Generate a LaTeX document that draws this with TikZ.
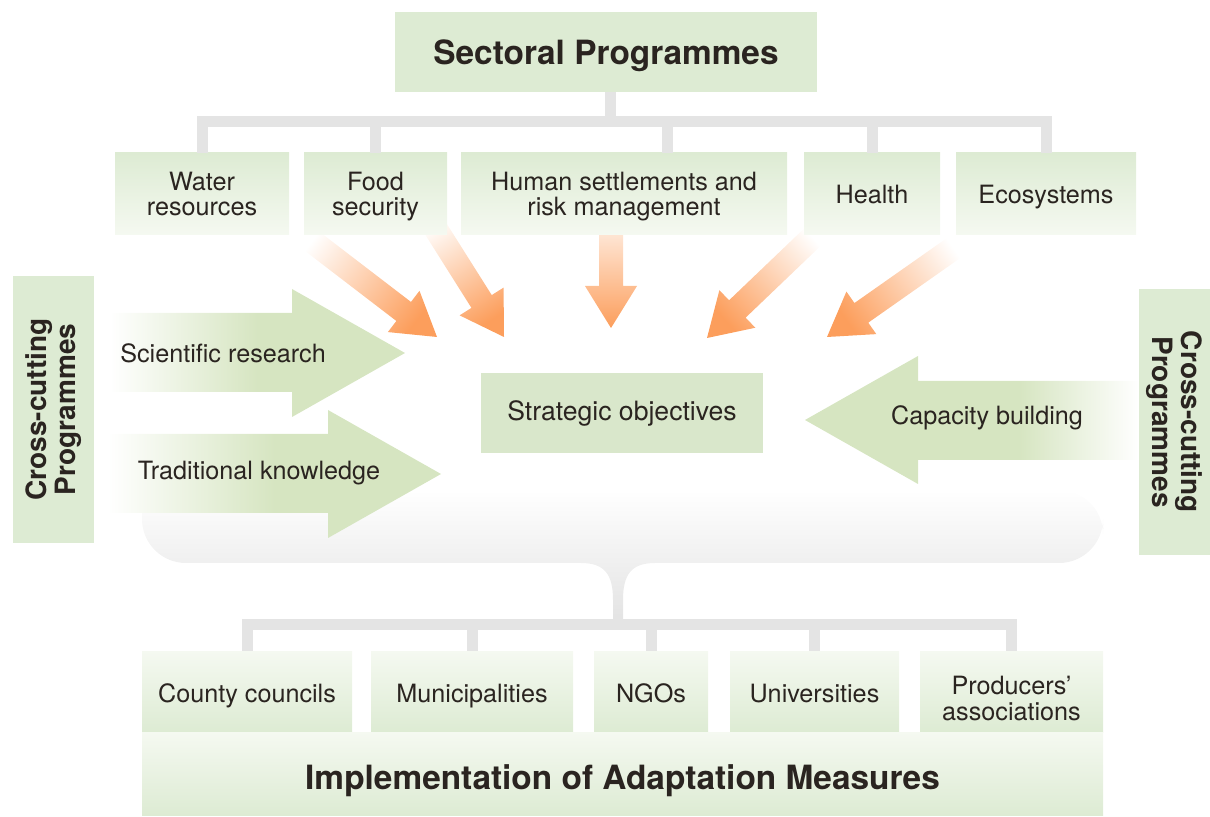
\documentclass[tikz,border=0pt]{standalone}
\usepackage{fontspec}
\setmainfont{TeX Gyre Heros}
\usetikzlibrary{calc}
\definecolor{boxgreen}{RGB}{221,235,211}
\definecolor{boxpale}{RGB}{245,249,241}
\definecolor{objgreen}{RGB}{217,231,203}
\definecolor{arrowgreen}{RGB}{214,229,193}
\definecolor{orangetip}{RGB}{252,158,92}
\definecolor{bargray}{RGB}{228,228,228}
\definecolor{bracketgray}{RGB}{226,226,226}
\definecolor{inkdark}{RGB}{42,36,32}
\pgfdeclarehorizontalshading{capfade}{100bp}{color(0bp)=(arrowgreen); color(25bp)=(arrowgreen);
  color(57bp)=(arrowgreen); color(75bp)=(white); color(100bp)=(white)}
\tikzset{
  secbox/.style   = {rectangle, inner sep=0pt, align=center, text=inkdark,
                     font=\fontsize{12.6}{12.8}\selectfont, text depth=0pt,
                     top color=boxgreen, bottom color=boxpale},
  oneline/.style  = {text height=#1, text depth=0pt},
  orgbox/.style   = {secbox, top color=boxpale, bottom color=boxgreen},
  headbox/.style  = {rectangle, inner sep=0pt, text=inkdark,
                     font=\fontsize{16.7}{20}\selectfont\bfseries},
  sidebox/.style  = {rectangle, inner sep=0pt, align=center, fill=boxgreen,
                     text=inkdark, font=\fontsize{14}{12}\selectfont\bfseries},
  lbl/.style      = {inner sep=0pt, text=inkdark, font=\fontsize{12.6}{12.8}\selectfont},
  greenarrow/.style = {left color=white, right color=arrowgreen, middle color=arrowgreen},
  bar/.style      = {draw=bargray, line width=5.5pt}
}
\begin{document}
\begin{tikzpicture}[x=0.5pt,y=-0.5pt]
\useasboundingbox (0,0) rectangle (1210,817);

% bracket above the bottom row
\path[top color=white, bottom color=bracketgray]
  (142,490) {[rounded corners=22pt] -- (142,563) -- (400,563)} -- (581,563)
  .. controls (605,563) and (613,575) .. (613,600) -- (613,625) -- (623,625) -- (623,600)
  .. controls (623,575) and (631,563) .. (655,563)
  {[rounded corners=22pt] -- (1103,563) -- (1103,490)} -- cycle;

% green arrows
\path[greenarrow] (110,313) -- (292,313) -- (292,289) -- (405,353)
  -- (292,417) -- (292,392) -- (110,392) -- cycle;
\path[greenarrow] (108,434) -- (328,434) -- (328,410) -- (441,474)
  -- (328,538) -- (328,513) -- (108,513) -- cycle;
\path[shade, shading=capfade]
  (1139,381) -- (918,381) -- (918,356) -- (805,420)
  -- (918,484) -- (918,460) -- (1139,460) -- cycle;

% orange arrows
\foreach \tx/\ty/\px/\py/\ang in {300/232/437/337/52.5, 427/215/504/337/32.4,
    611/200/611/328/0, 822/228/707/338/-47.3, 965/240/827/337/-54.9} {
  \coordinate (t) at (\tx,\ty);
  \coordinate (p) at (\px,\py);
  \coordinate (b) at ($(p)!21pt!(t)$);
  \path[left color=white, right color=orangetip, shading angle=\ang]
    ($(t)!6pt!90:(p)$) -- ($(b)!6pt!90:(p)$) -- ($(b)!13pt!90:(p)$) -- (p)
    -- ($(b)!13pt!-90:(p)$) -- ($(b)!6pt!-90:(p)$) -- ($(t)!6pt!-90:(p)$) -- cycle;
}

% boxes
\node[headbox, fill=boxgreen, minimum width=211pt, minimum height=40pt,
  oneline=12.5pt] (title) at (606,52) {Sectoral Programmes};
\node[secbox, minimum width=87pt, minimum height=41pt] (water) at (202,194) {Water\\resources};
\node[secbox, minimum width=71.5pt, minimum height=41pt] (food) at (375.5,194) {Food\\security};
\node[secbox, minimum width=163pt, minimum height=41pt]
  (human) at (624,194) {Human settlements and\\risk management};
\node[secbox, minimum width=68pt, minimum height=41pt, oneline=9.5pt]
  (health) at (872,194) {Health};
\node[secbox, minimum width=90pt, minimum height=41pt, oneline=9.5pt]
  (eco) at (1046,194) {Ecosystems};

\node[lbl, fill=objgreen, minimum width=141pt, minimum height=40pt,
  font=\fontsize{13.3}{14}\selectfont] (objectives) at (622,413) {Strategic objectives};

\node[sidebox, rotate=90, minimum width=133.5pt, minimum height=40.5pt]
  (crossL) at (53.5,409.5) {Cross-cutting\\Programmes};
\node[sidebox, rotate=-90, minimum width=133pt, minimum height=35.5pt]
  (crossR) at (1174.5,422) {Cross-cutting\\Programmes};

\node[lbl] (science) at (223,353) {Scientific research};
\node[lbl] (tradition) at (259,473) {Traditional knowledge};
\node[lbl] (capacity) at (987,418) {Capacity building};

\node[orgbox, minimum width=105pt, minimum height=40.5pt, oneline=11.45pt]
  (county) at (247,691.5) {County councils};
\node[orgbox, minimum width=101pt, minimum height=40.5pt, oneline=11.45pt]
  (munic) at (472,691.5) {Municipalities};
\node[orgbox, minimum width=57pt, minimum height=40.5pt, oneline=11.45pt]
  (ngo) at (651,691.5) {NGOs};
\node[orgbox, minimum width=84.5pt, minimum height=40.5pt, oneline=11.45pt]
  (univ) at (814.5,691.5) {Universities};
\node[orgbox, minimum width=91.5pt, minimum height=40.5pt, oneline=29pt]
  (prod) at (1011.5,691.5) {Producers’\\associations};
\node[headbox, top color=boxpale, bottom color=boxgreen, minimum width=480.5pt,
  minimum height=41.5pt, oneline=15.5pt]
  (impl) at (622.5,773.5) {Implementation of Adaptation Measures};

% connector bars
\coordinate (tophub) at (610,121.5);
\draw[bar] (title.south -| tophub) -- (tophub);
\foreach \n in {water,food,health,eco}
  \draw[bar] (tophub) -| (\n.north);
\draw[bar] (tophub) -| ($(human.north)+(43.5,0)$);

\coordinate (bothub) at (618,625);
\foreach \n in {county,munic,ngo,univ,prod}
  \draw[bar] (bothub) -| (\n.north);
\end{tikzpicture}
\end{document}
